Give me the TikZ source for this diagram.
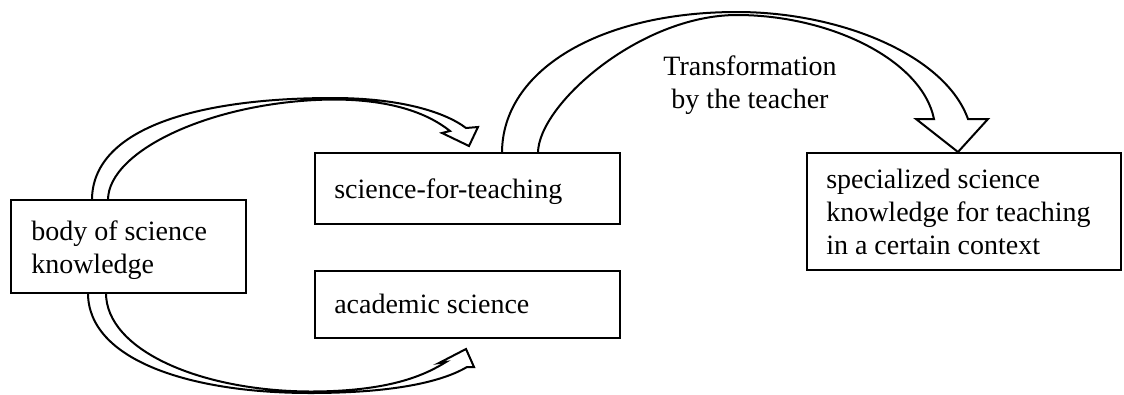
\documentclass[tikz,border=0pt]{standalone}
\usepackage{fontspec}
\setmainfont{Liberation Serif}
\begin{document}
\begin{tikzpicture}[x=0.75pt,y=-0.75pt,
  box/.style={draw, line width=1.6pt, rectangle, inner sep=0pt, outer sep=0pt, anchor=north west},
  txt/.style={font=\fontsize{21}{24.75}\selectfont, inner sep=0pt, align=left, anchor=base west},
  lbl/.style={font=\fontsize{21}{24.75}\selectfont, inner sep=0pt, align=center, anchor=base},
  arr/.style={draw, fill=white, line width=1.5pt, line join=miter}]
\useasboundingbox (0,0) rectangle (1124,394);

% curved block arrows (drawn first, boxes go on top)
\coordinate (a1s) at (92,200);
\filldraw[arr] (a1s) .. controls (92,130) and (193,98) .. (333,98)
  .. controls (400,98) and (445,112) .. (466,128) -- (478,127) -- (469,146) -- (442,133) -- (450,131)
  .. controls (430,115) and (395,99.5) .. (333,99.5)
  .. controls (215,100.5) and (108,150) .. (108,200);

\coordinate (a2s) at (88,293);
\filldraw[arr] (a2s) .. controls (88,360) and (190,393) .. (310,393)
  .. controls (400,393) and (445,380) .. (467,367) -- (474,367) -- (466,349) -- (439,363) -- (446,362)
  .. controls (425,375) and (390,391.5) .. (310,391.5)
  .. controls (200,391) and (106,350) .. (106,293);

\coordinate (a3s) at (502,153);
\filldraw[arr] (a3s) .. controls (502,70) and (600,12) .. (737,12)
  .. controls (840,12) and (945,55) .. (968,119) -- (988,119) -- (958,152) -- (916,119) -- (934,119)
  .. controls (922,60) and (830,15) .. (737,15)
  .. controls (640,15) and (538,105) .. (538,153);

% boxes
\node[box, minimum width={235*0.75pt}, minimum height={93*0.75pt}] (b1) at (11,200) {};
\node[box, minimum width={305*0.75pt}, minimum height={71*0.75pt}] (b2) at (315,153) {};
\node[box, minimum width={305*0.75pt}, minimum height={67*0.75pt}] (b3) at (315,271) {};
\node[box, minimum width={314*0.75pt}, minimum height={117*0.75pt}] (b4) at (807,153) {};

% texts (base anchor = baseline of the last line)
\node[txt] (t1) at (31,273) {body of science\\knowledge};
\node[txt] (t2) at (334,198) {science-for-teaching};
\node[txt] (t3) at (334,313) {academic science};
\node[txt] (t4) at (826,254) {specialized science\\knowledge for teaching\\in a certain context};
\node[lbl] (l1) at (750,108) {Transformation\\by the teacher};
\end{tikzpicture}
\end{document}
